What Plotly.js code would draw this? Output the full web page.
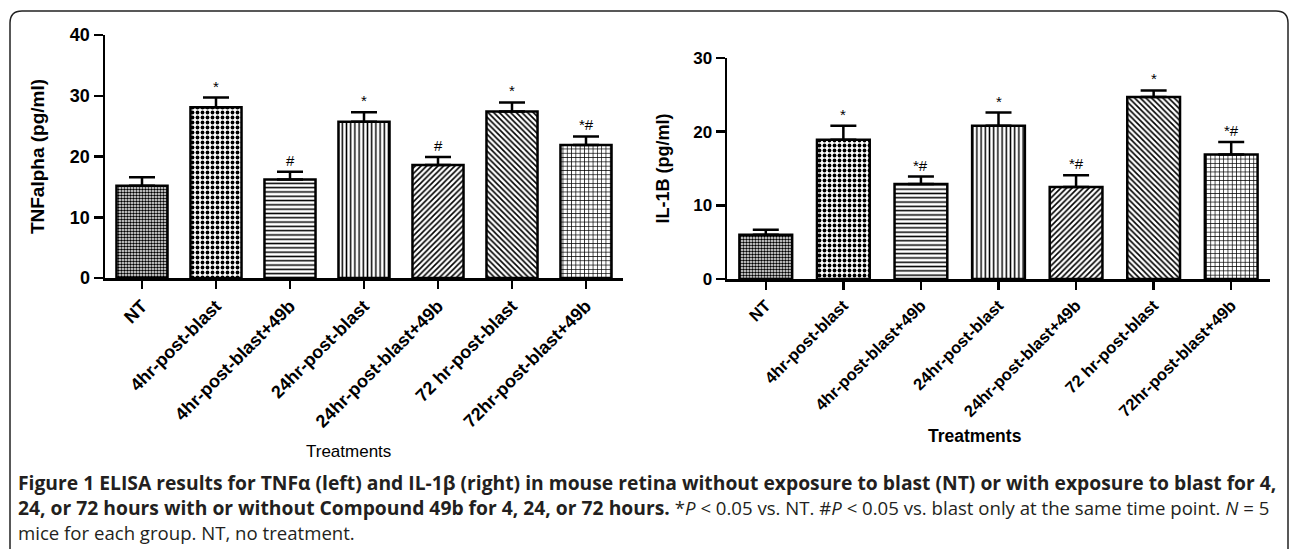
<!DOCTYPE html>
<html>
<head>
<meta charset="utf-8">
<script src="https://cdn.plot.ly/plotly-3.0.1.min.js"></script>
<style>
html,body{margin:0;padding:0;background:#fff;}
#chart{width:1290px;height:549px;}
</style>
</head>
<body>
<div id="chart"></div>
<script>
// ---- data ----
const categories = ["NT", "4hr-post-blast", "4hr-post-blast+49b", "24hr-post-blast", "24hr-post-blast+49b", "72 hr-post-blast", "72hr-post-blast+49b"];
const tnfMean = [15.2, 28.1, 16.2, 25.7, 18.6, 27.4, 21.9];
const tnfSem  = [1.4, 1.6, 1.3, 1.6, 1.3, 1.5, 1.4];
const tnfSig  = ["", "*", "#", "*", "#", "*", "*#"];
const il1bMean = [6.0, 18.9, 12.9, 20.8, 12.5, 24.7, 16.9];
const il1bSem  = [0.7, 1.9, 1.0, 1.8, 1.6, 0.9, 1.7];
const il1bSig  = ["", "*", "*#", "*", "*#", "*", "*#"];
const yTicksLeft = [0, 10, 20, 30, 40];
const yTicksRight = [0, 10, 20, 30];

// ---- styles ----
const patShapes = [".", ".", "-", "|", "/", "\\", "+"];
const patSizes  = [3, 5, 4.3, 4.2, 4, 4, 4.3];
const patSolid  = [0.55, 0.45, 0.35, 0.35, 0.4, 0.4, 0.3];
const FONT = "Liberation Sans, Arial, sans-serif";
const W = 1290, H = 549;
const px = v => v / W;
const py = v => 1 - v / H;

function barTrace(y, sem, xa, ya, width) {
  return {
    type: "bar", x: categories, y: y, xaxis: xa, yaxis: ya, width: width,
    marker: {
      color: "#ffffff",
      line: {color: "#000", width: 2.5},
      pattern: {shape: patShapes, size: patSizes, solidity: patSolid, fgcolor: "#000", bgcolor: "#fff", fillmode: "replace"}
    },
    error_y: {type: "data", symmetric: false, array: sem, arrayminus: sem.map(() => 0), color: "#000", thickness: 2.5, width: 13},
    hoverinfo: "skip", showlegend: false
  };
}

const data = [
  barTrace(tnfMean, tnfSem, "x", "y", 0.69),
  barTrace(il1bMean, il1bSem, "x2", "y2", 0.68)
];

const annotations = [];
function sigAnn(means, sems, sigs, xa, ya) {
  sigs.forEach((s, i) => {
    if (!s) return;
    annotations.push({
      xref: xa, yref: ya, x: categories[i], y: means[i] + sems[i],
      text: s, showarrow: false, yanchor: "bottom", yshift: 1,
      font: {family: FONT, size: 15, color: "#000"}
    });
  });
}
sigAnn(tnfMean, tnfSem, tnfSig, "x", "y");
sigAnn(il1bMean, il1bSem, il1bSig, "x2", "y2");

// x-axis titles
annotations.push({xref: "paper", yref: "paper", x: px(348), y: py(451), text: "Treatments", showarrow: false,
  xanchor: "center", yanchor: "middle", font: {family: FONT, size: 17, color: "#000"}});
annotations.push({xref: "paper", yref: "paper", x: px(975), y: py(436), text: "<b>Treatments</b>", showarrow: false,
  xanchor: "center", yanchor: "middle", font: {family: FONT, size: 17.5, color: "#000"}});

// caption (one text block, three lines)
const R = s => '<span style="font-size:18.6px">' + s + '</span>';
const capLines = [
  "<b>Figure 1 ELISA results for TNFα (left) and IL-1β (right) in mouse retina without exposure to blast (NT) or with exposure to blast for 4,</b>",
  "<b>24, or 72 hours with or without Compound 49b for 4, 24, or 72 hours.</b> " +
    R("*<i>P</i> &lt; 0.05 vs. NT. #<i>P</i> &lt; 0.05 vs. blast only at the same time point. <i>N</i> = 5"),
  R("mice for each group. NT, no treatment.")
];
annotations.push({
  xref: "paper", yref: "paper", x: px(16), y: py(507), text: capLines.join("<br>"), showarrow: false,
  xanchor: "left", yanchor: "middle", align: "left",
  font: {family: "Open Sans, sans-serif", size: 19.3, color: "#231f20"}
});

const xBase = {
  type: "category", range: [-0.5, 6.5], showline: true, linecolor: "#000", linewidth: 2.5,
  ticks: "outside", ticklen: 8, tickwidth: 2.5, tickcolor: "#000", tickangle: -45,
  showgrid: false, zeroline: false, fixedrange: true,
  tickfont: {family: FONT, size: 18, color: "#000", weight: "bold"}
};
const yBase = {
  showline: true, linecolor: "#000", linewidth: 2.5, ticks: "outside", ticklen: 9, tickwidth: 2.5,
  tickcolor: "#000", showgrid: false, zeroline: false, fixedrange: true,
  tickfont: {family: FONT, size: 18, color: "#000", weight: "bold"}
};

const frame = "M " + px(10) + "," + py(570) + " L " + px(10) + "," + py(23) +
  " Q " + px(10) + "," + py(11) + " " + px(22) + "," + py(11) +
  " L " + px(1276) + "," + py(11) + " Q " + px(1288) + "," + py(11) + " " + px(1288) + "," + py(23) +
  " L " + px(1288) + "," + py(570);

const layout = {
  width: W, height: H, margin: {l: 0, r: 0, t: 0, b: 0}, paper_bgcolor: "#fff", plot_bgcolor: "#fff",
  showlegend: false, bargap: 0.3,
  xaxis: Object.assign({}, xBase, {domain: [px(105), px(623)], anchor: "y"}),
  yaxis: Object.assign({}, yBase, {domain: [py(278), py(35)], anchor: "x", range: [0, 40], tickvals: yTicksLeft,
    title: {text: "TNFalpha (pg/ml)", standoff: 20, font: {family: FONT, size: 19, color: "#000", weight: "bold"}}}),
  xaxis2: Object.assign({}, xBase, {domain: [px(727), px(1270)], anchor: "y2",
    tickfont: {family: FONT, size: 16.5, color: "#000", weight: "bold"}}),
  yaxis2: Object.assign({}, yBase, {domain: [py(279), py(58)], anchor: "x2", range: [0, 30], tickvals: yTicksRight,
    tickfont: {family: FONT, size: 17, color: "#000", weight: "bold"},
    title: {text: "IL-1B (pg/ml)", standoff: 19, font: {family: FONT, size: 18, color: "#000", weight: "bold"}}}),
  annotations: annotations,
  shapes: [{type: "path", xref: "paper", yref: "paper", path: frame, line: {color: "#222", width: 1.5}}]
};

Plotly.newPlot("chart", data, layout, {staticPlot: true, displayModeBar: false});
</script>
</body>
</html>
